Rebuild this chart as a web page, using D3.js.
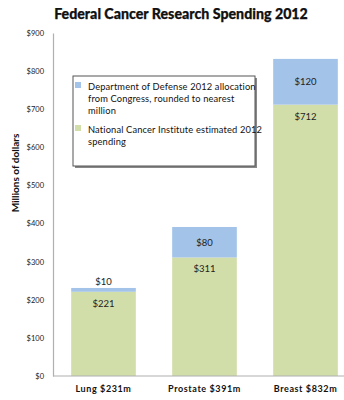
<!DOCTYPE html>
<html>
<head>
<meta charset="utf-8">
<script src="https://cdn.jsdelivr.net/npm/d3@7"></script>
<style>
  body { margin: 0; background: #fff; }
  svg { display: block; font-family: Lato, "Open Sans", sans-serif; }
</style>
</head>
<body>
<svg id="chart" width="344" height="400"></svg>
<script>
// Cancer types and their funding, millions of dollars
const categories = ["Lung $231m", "Prostate $391m", "Breast $832m"];
const nciValues = [221, 311, 712];   // National Cancer Institute
const dodValues = [10, 80, 120];     // Department of Defense
const tickValues = [0, 100, 200, 300, 400, 500, 600, 700, 800, 900];
const tickLabels = ["$0", "$100", "$200", "$300", "$400", "$500", "$600", "$700", "$800", "$900"];

const colors = { dod: "#a3c3e8", nci: "#d2dea9" };

const svg = d3.select("#chart");
const plotTop = 33, plotBottom = 376, plotLeft = 53, plotRight = 356;

const x = d3.scaleBand().domain(categories).range([plotLeft, plotRight])
  .paddingInner(0.36).paddingOuter(0.18);
const y = d3.scaleLinear().domain([0, 900]).range([plotBottom, plotTop]);

// Title
svg.append("text").attr("x", 181).attr("y", 19).attr("text-anchor", "middle")
  .attr("font-size", 14.2).attr("font-weight", "900").attr("fill", "#111")
  .attr("stroke", "#111").attr("stroke-width", 0.25)
  .text("Federal Cancer Research Spending 2012");

// Y axis labels
const yAxis = d3.axisLeft(y).tickValues(tickValues)
  .tickFormat((d, i) => tickLabels[i]).tickSize(0).tickPadding(9);
const yg = svg.append("g").attr("transform", `translate(${plotLeft},0)`).call(yAxis);
yg.select(".domain").attr("stroke", "#b0b0b0").attr("stroke-width", 1.2);
yg.selectAll("text").attr("font-size", 7.5).attr("fill", "#222").attr("font-family", "Lato, sans-serif");

// Y axis title
svg.append("text").attr("transform", "translate(19,173) rotate(-90)")
  .attr("text-anchor", "middle").attr("font-size", 10).attr("font-weight", "bold")
  .attr("fill", "#111").text("Millions of dollars");

// Stacked bars
const bars = svg.append("g");
categories.forEach((c, i) => {
  const nci = nciValues[i], dod = dodValues[i];
  bars.append("rect").attr("x", x(c)).attr("width", x.bandwidth())
    .attr("y", y(nci)).attr("height", y(0) - y(nci)).attr("fill", colors.nci);
  bars.append("rect").attr("x", x(c)).attr("width", x.bandwidth())
    .attr("y", y(nci + dod)).attr("height", y(nci) - y(nci + dod)).attr("fill", colors.dod);

  const cx = x(c) + x.bandwidth() / 2;
  // NCI value label near the top of the green segment
  bars.append("text").attr("x", cx).attr("y", y(nci) + 15).attr("text-anchor", "middle")
    .attr("font-size", 9.5).attr("fill", "#222").text("$" + nci);
  // DoD value label: centred in the segment, or above it when too thin
  const segH = y(nci) - y(nci + dod);
  const ly = segH > 14 ? (y(nci) + y(nci + dod)) / 2 + 3.5 : y(nci + dod) - 3;
  bars.append("text").attr("x", cx).attr("y", ly).attr("text-anchor", "middle")
    .attr("font-size", 9.5).attr("fill", "#222").text("$" + dod);
});

// X axis
const xAxis = d3.axisBottom(x).tickSize(0).tickPadding(10);
const xg = svg.append("g").attr("transform", `translate(0,${plotBottom})`).call(xAxis);
xg.select(".domain").attr("stroke", "#b0b0b0").attr("stroke-width", 1.2)
  .attr("d", `M${plotLeft},0H344`);
xg.selectAll("text").attr("font-size", 9).attr("font-weight", "bold")
  .attr("letter-spacing", 0.6).attr("fill", "#111").attr("font-family", "Lato, sans-serif");

// Legend
const lg = svg.append("g");
lg.append("rect").attr("x", 75).attr("y", 78).attr("width", 182).attr("height", 90).attr("fill", "#888");
lg.append("rect").attr("x", 73).attr("y", 76).attr("width", 182).attr("height", 90)
  .attr("fill", "#fff").attr("stroke", "#555").attr("stroke-width", 1);
const legendItems = [
  { color: colors.dod, lines: ["Department of Defense 2012 allocation", "from Congress, rounded to nearest", "million"], y: 88 },
  { color: colors.nci, lines: ["National Cancer Institute estimated 2012", "spending"], y: 131 }
];
legendItems.forEach(item => {
  lg.append("rect").attr("x", 75).attr("y", item.y - 6).attr("width", 6).attr("height", 6).attr("fill", item.color);
  const t = lg.append("text").attr("x", 88).attr("y", item.y + 2).attr("font-size", 9.3)
    .attr("letter-spacing", 0.15).attr("fill", "#111");
  item.lines.forEach((l, j) => t.append("tspan").attr("x", 88).attr("dy", j === 0 ? 0 : 12).text(l));
});
</script>
</body>
</html>
